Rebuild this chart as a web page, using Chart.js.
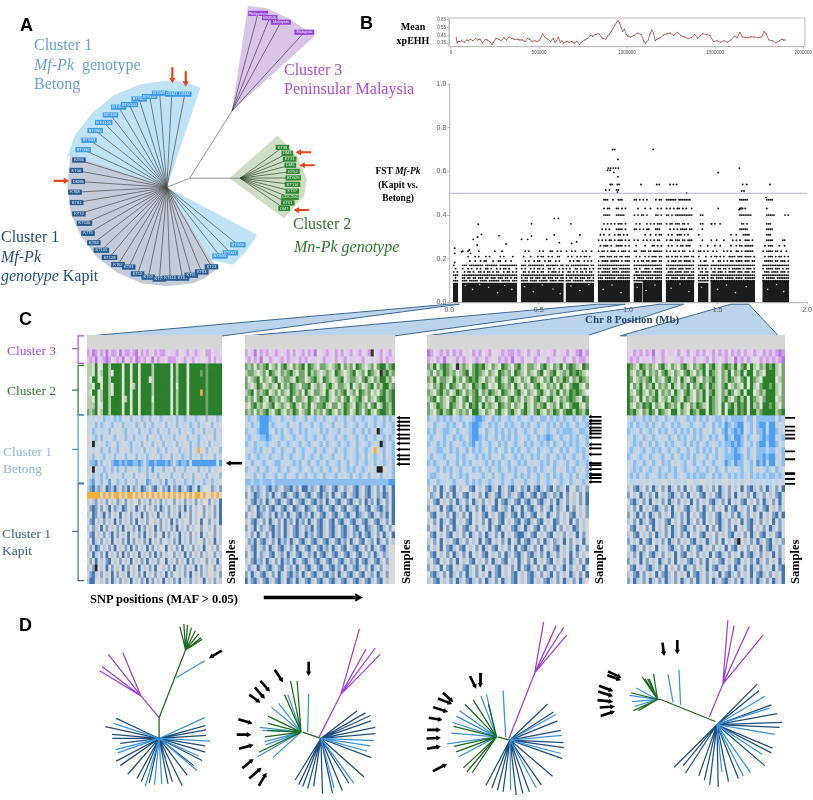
<!DOCTYPE html>
<html>
<head>
<meta charset="utf-8">
<title>Mf-Pk clusters and Chr 8 FST</title>
<script src="https://cdn.jsdelivr.net/npm/chart.js@4"></script>
<style>
body { margin: 0; background: #fff; }
#fig { position: relative; width: 813px; height: 800px; overflow: hidden; }
canvas { position: absolute; }
.t { position: absolute; z-index: 5; white-space: nowrap; line-height: 1; font-family: "Liberation Serif", serif; }
.h { font-family: "Liberation Sans", sans-serif; font-weight: bold; font-size: 18px; color: #000; }
.b { font-weight: bold; color: #000; }
.s { font-weight: bold; font-size: 12.5px; transform: rotate(-90deg); transform-origin: left top; }
</style>
</head>
<body>
<div id="fig">
  <div class="t h" style="left:20px;top:16px">A</div>
  <div class="t h" style="left:360px;top:14px">B</div>
  <div class="t h" style="left:19px;top:310px">C</div>
  <div class="t h" style="left:19px;top:616px">D</div>

  <div class="t" style="left:34px;top:35px;font-size:16px;color:#6b9fd0;line-height:19.5px">Cluster 1<br><i>Mf-Pk</i>&nbsp; genotype<br>Betong</div>
  <div class="t" style="left:284px;top:60px;font-size:16px;color:#b24ad8;line-height:19px">Cluster 3<br>Peninsular Malaysia</div>
  <div class="t" style="left:293px;top:216px;font-size:16px;color:#2c7a2c">Cluster 2</div>
  <div class="t" style="left:294px;top:239px;font-size:16px;color:#2c7a2c"><i>Mn-Pk genotype</i></div>
  <div class="t" style="left:1px;top:227px;font-size:16px;color:#1f4e79;line-height:19.5px">Cluster 1<br><i>Mf-Pk</i><br><i>genotype</i> Kapit</div>

  <div class="t b" style="left:394px;top:20px;width:38px;text-align:center;font-size:10px;line-height:14px">Mean<br>xpEHH</div>
  <div class="t b" style="left:368px;top:165px;width:60px;text-align:center;font-size:9.5px;line-height:13.5px">FST <i>Mf-Pk</i><br>(Kapit vs.<br>Betong)</div>
  <div class="t b" style="left:585px;top:314px;font-size:11px;color:#27476b">Chr 8 Position (Mb)</div>

  <div class="t" style="left:7px;top:344px;font-size:13.5px;color:#b24ad8">Cluster 3</div>
  <div class="t" style="left:7px;top:384px;font-size:13.5px;color:#2c7a2c">Cluster 2</div>
  <div class="t" style="left:3px;top:444px;font-size:13.5px;color:#8db8de;line-height:16.5px">Cluster 1<br>Betong</div>
  <div class="t" style="left:2px;top:526px;font-size:13.5px;color:#2f5f8f;line-height:16.5px">Cluster 1<br>Kapit</div>

  <div class="t s" style="left:225px;top:584px">Samples</div>
  <div class="t s" style="left:400px;top:584px">Samples</div>
  <div class="t s" style="left:593px;top:584px">Samples</div>
  <div class="t s" style="left:789px;top:584px">Samples</div>
  <div class="t b" style="left:90px;top:593px;font-size:12.5px">SNP positions (MAF &gt; 0.05)</div>
</div>

<script>
// ---------- panel B, mean xpEHH ----------
const xpPos = [30,35,40,50,60,75,90,100,110,125,140,150,165,180,195,205,220,232,240,255,270,285,300,315,330,345,360,375,390,405,420,435,445,460,475,490,505,520,535,550,565,580,590,600,610,620,630,640,655,670,685,700,715,730,745,760,775,790,805,820,840,860,880,890,900,910,920,930,940,948,955,965,975,985,995,1005,1020,1040,1060,1080,1095,1105,1120,1130,1140,1150,1160,1170,1180,1190,1205,1225,1245,1265,1285,1305,1325,1345,1365,1385,1400,1412,1430,1450,1470,1490,1510,1530,1550,1570,1590,1610,1625,1640,1655,1670,1685,1700,1720,1745,1765,1778,1790,1805,1825,1845,1865,1880,1890,1900];
const xpVal = [0.42,0.35,0.37,0.37,0.38,0.36,0.39,0.38,0.40,0.38,0.41,0.39,0.40,0.35,0.40,0.39,0.37,0.33,0.36,0.41,0.40,0.38,0.42,0.39,0.43,0.41,0.40,0.40,0.39,0.39,0.37,0.41,0.40,0.37,0.38,0.37,0.39,0.47,0.42,0.40,0.37,0.41,0.36,0.38,0.43,0.36,0.38,0.35,0.37,0.36,0.37,0.35,0.37,0.33,0.37,0.39,0.41,0.45,0.44,0.46,0.47,0.41,0.40,0.44,0.47,0.50,0.54,0.58,0.62,0.64,0.62,0.56,0.50,0.53,0.46,0.44,0.43,0.45,0.48,0.46,0.37,0.35,0.39,0.47,0.52,0.48,0.38,0.40,0.41,0.42,0.45,0.47,0.48,0.45,0.49,0.45,0.43,0.41,0.42,0.46,0.41,0.44,0.47,0.46,0.45,0.37,0.38,0.36,0.38,0.36,0.39,0.44,0.42,0.49,0.43,0.42,0.42,0.43,0.43,0.42,0.43,0.50,0.47,0.39,0.38,0.35,0.38,0.40,0.39,0.39];
const xpTicksX = [0, 500000, 1000000, 1500000, 2000000];
const xpTicksY = [0.35, 0.45, 0.55, 0.65];

// ---------- panel B, FST scatter ----------
const fstThreshold = 0.5;
const fstLevels = [0.10,0.112,0.125,0.14,0.155,0.17,0.19,0.21,0.235,0.26,0.285,0.31,0.335,0.36,0.40,0.43,0.47];
// [first bin (0.01 Mb), top of the solid band, dots per level]
const contig1 = [2, 0.09, ["###",".#.","###","#.#",".#.","#.."]];
const contig2 = [7, 0.09, [
  "###.#####.####.######.#####.###","##.##.##.###.##.###.###.##.#.##","###############################",
  ".#.##.#..##.#.##.#.##..#.##.#.#","#..#.#..#.#..##.#..#.#.##.#...#","###.########.#######.##########",
  "....#..#..#.##...#..##..#..#...","...#...#.#...#.#.....#.#....#..","#..#.....#........#...#........"]];
const contig3 = [40, 0.09, [
  "####.####.#####.####.###","#.##.##.###.##.###.##.##","########################",
  ".##.#.##.#.##..#.###.#.#","#.#..#.#.##.#..##.#..#.#","###.#########.#######.##",
  "..#.#..#.##..#.##..#.#..",".#...#...#.##..#.#..##..","..#.#.....#.#...##..#.#."]];
const contig4 = [65, 0.09, [
  "###.######.#####","#.##.##.###.##.#","################",
  ".##.#.#.##.#.##.","#.#..##.#.##.#.#","##.##########.##",
  "..#.#.##..#.#.#.",".#.#..#.#.##.#..","#..#.#...#.#..#."]];
const contig5 = [83, 0.10, [
  "##################","###.######.#######","##################",
  "#.#####.####.#####","##.####.###.######","##################",
  "#.####.#####.#.###",".###.###.##.##.###","#.##.#.###.#.###.#",
  ".#.###.#..####.#.#","#.#.#.##.#.###.#.#",".#.#..#..#.##.#.#.",
  "..#.#.#...####.#..","...#.#.#.#.###.#..","...####...#####..","...#.##...##.#.#.","...###..#..###..."]];
const contig6 = [103, 0.09, ["#####","#.###","#####",".##.#","##.#.","#####","#.#.#",".#.#.","##..#",".#...","#.#..",".....","##.#.",".#.#.","#.#.#","..#..","##.#."]];
const contig7 = [108, 0.10, [
  "###########","#.####.####","###########","#####.#####",".###.#.####","###########",
  "#.##.###.##",".#.#.###.##","##.##.#####",".#...##.#.#","#.#.#.#.##.",".#..#..#.##",
  "#.##...###.","..#.#.#.###","#.#....##.#",".#..#...#.#","#.#....#.##"]];
const contig8 = [121, 0.10, [
  "################","##.####.###.####","################",".###.####.###.##","#.####.###.###.#","################",
  ".#.###.##.####.#","##.#.##.#.###.##","#.#.##.#.##..#.#",".#.#..#.##.###..","#.##.###.##.###.",".#.#..###.#.#...",
  "..#.#.#.####.##.","#.##.###.##.#...","##.#.##########.","#.#.#.##.#.#..#.","######.#######.."]];
const contig9 = [139, 0.09, ["######","#.##.#","######",".##.##","#.#.#.","######",".#.##.","#...#.","##.#.#",".#...#","..#...","#.....","..#...",".#....",".#...."]];
const contig10 = [146, 0.10, [
  "#########################","##.####.#####.####.######","#########################",
  ".##.###.#.####.###.###.##","#.#.##.##.#.#####.#.###.#","#########################",
  ".#..##.#.#.##.####.###.##","#.##.#.#..####.###.####.#",".#.#...#.#.#..##.#.#####.",
  "..#..#.....#..#.##.#####.","#..#...#....#.#.#..###.#.","...........#..#...####...",
  "................#####....","#.#..............##.#....","................#######..","................##.#.....","................#####...."]];
const contig11 = [175, 0.10, [
  "###############","#.#####.#######","###############",".###.####.###.#","#.####.###.#.##","###############",
  ".#####.##.###.#",".#.###.#.##.#.#","#.####.##.#..#.",".#.###...#..#..","..####.....##..","..###..........",
  "..####.........","..###..........","..#####.......#","..#............","..####........."]];
const contigList = [contig1, contig2, contig3, contig4, contig5, contig6, contig7, contig8, contig9, contig10, contig11];
const contigBins = [3, 31, 24, 16, 18, 5, 11, 16, 6, 25, 15];
const fstSparse = [[0.03,0.248],[0.03,0.225],[0.03,0.183],[0.162,0.358],[0.18,0.312],[0.158,0.30],[0.134,0.289],[0.156,0.263],[0.278,0.306],[0.317,0.268],[0.112,0.24],[0.069,0.232],[0.119,0.225],
  [0.46,0.36],[0.46,0.304],[0.404,0.289],[0.438,0.289],[0.544,0.289],[0.587,0.309],[0.587,0.385],[0.61,0.385],[0.615,0.274],[0.68,0.36],[0.73,0.309],[0.712,0.278],[0.684,0.27],
  [0.913,0.70],[0.925,0.70],[0.943,0.655],[0.889,0.615],[0.902,0.615],[0.917,0.615],[0.93,0.615],[0.945,0.615],[0.943,0.575],[0.885,0.605],[0.9,0.605],[0.92,0.595],
  [0.90,0.54],[0.91,0.54],[0.94,0.54],[0.95,0.54],[0.875,0.515],[0.895,0.515],[0.935,0.515],[0.94,0.505],[0.945,0.515],
  [1.14,0.70],[1.072,0.54],[1.16,0.54],[1.174,0.54],[1.234,0.54],[1.253,0.54],[1.271,0.54],[1.327,0.50],
  [1.504,0.595],[1.622,0.615],[1.64,0.54],[1.663,0.54],[1.635,0.51],[1.648,0.51],[1.504,0.43],[1.793,0.54],[1.877,0.40],[1.771,0.48],[1.417,0.40],[1.417,0.36],[1.467,0.36],[1.514,0.36],[1.63,0.43],[1.62,0.425],[1.64,0.43]];
const fstFlecks = [[0.09,0.078],[0.13,0.06],[0.17,0.082],[0.22,0.07],[0.27,0.045],[0.31,0.078],[0.35,0.06],[0.42,0.072],[0.47,0.05],[0.52,0.08],[0.58,0.062],[0.62,0.04],[0.68,0.076],[0.73,0.055],[0.78,0.082],[0.86,0.06],[0.91,0.08],[0.96,0.045],[1.05,0.07],[1.1,0.055],[1.15,0.08],[1.24,0.065],[1.29,0.085],[1.34,0.05],[1.41,0.07],[1.5,0.06],[1.55,0.08],[1.6,0.045],[1.66,0.072],[1.78,0.06],[1.83,0.082],[1.87,0.05]];

// ---------- panel C, heat maps: 0 grey, 1-3 cluster tints, 4 black, 5 orange ----------
const heatPanel1 = {
  purple: ["21320213122031221230212102122101120012012100220110","12130123201213012032120130211022210120120100120201"],
  green: [
    "11030033133330330330333313333330313330333333233333","11030133103330330330333313333330313330333323233333",
    "10330033133330330330333013333330313330333333233333","11033033103330330130333313333330303330333333233333",
    "10330133103330330330333313333330313330333353233333","11030133133330130330333303333330313330333333233333",
    "11130033133330330330333313333330313330333333233333","21230133133330330330333313333330313330333333233333"],
  betong: [
    "10101021102120102010210201021011020120102100201021","01020210120102011021020120110201020110210201002010",
    "10210110201001201102010210201020102010120102010201","00120201012010210201102001020110201002010210100201",
    "10410102100210012010201020102011020100201201020110","00100210201200102011020100210201002010201500201002",
    "10200120102010201020102001021002010210201020100201","02230201023323233223202332333232023223033333333303",
    "10401021020210201002102030102010201020100201020100","00201202010102010201002010200102010201020010201002",
    "02301201300210201020103201020300201021020102102010"],
  kapit: [
    "12312103213102130210321023102130213102310310002102","55555050505505055050505050505050505050505505005050",
    "10120102010210201002010201020100201020102010020103","02320201302103201031020102031020102030201002010203",
    "10320130201030102010302010301020103010201002010203","02301020103020102030102001020103020100201030020103",
    "10210302010203010203020103020102030102010020010201","02301020130201030102030102003020103010201030100201",
    "10310201030102030201020301020010203010201002010301","02032010203010203020103020100301020301020103001020",
    "10310203010203020103010203020100201030201020100201","02030102301020103010203010200301020103020100201030",
    "10240103020103020103010203001020301020103020100201","02310201030201030102030102010302001020301020100102",
    "13300102031020103010203020103010203010201003010201"]
};
const heatPanel2 = {
  purple: ["20130212012101202012021300121021201201201240120120","12021300210120211021201100211020120110120010120211"],
  green: [
    "21202123012023102123032102210123021203210120233123","12210120321021231022031210121032101230120321042312",
    "20123021023012210322012310321012301221023102133120","21013201210302132102230121023102210301201230213312",
    "12302123012021032120310221031021230120321201023123","21202310321201230221032102231012023012310210233123",
    "10231201230121023102130122310220132103212023013213","21202123102310213201230212023102132013202310233213"],
  betong: [
    "12102333211021012101201210210120120120121012102021","10211333121011201021012012101201021012012012012012",
    "21012333102120121021201102120112010120120210421012","12101223210121012101201210210120121012012012012021",
    "21021112101201210120121012021012012102101210142012","10121201021021012012101201210120121012012105012012",
    "12012110210120121012012102101201021012102012102012","10210121012201012120120121021012012012012102012102",
    "21012012101210210121012012012102012120121001440012","10120121012012101201201210210120101201210201020102",
    "22122122212222222222222222222222222222222222222233"],
  kapit: [
    "10212102312102231203312103210231021023102310203103","20132102031023102310231023120310230123102310213203",
    "10231203102310230123102312031023102310203120310203","02103120231023103210321023102310230123102301231203",
    "20103210203120310231203102310231023103210231021303","10231020310203120312031023102302310231023102310203",
    "20130210231203102310213023102310231023103210231020","10203102031203102310312023102310231021302310203103",
    "02130231020312031023102310231023120310230120310201","10230120310231020310231023120310230123102031023100",
    "20130210230120310231021302310231023102310203102100","10231203102031203102310231023102310213023102310200",
    "02103102310230120310231023102312031023102031020100","20310231020310231203102310231203102310230120310200",
    "30231023102310320310231023102310231023102310230100"]
};
const heatPanel3 = {
  purple: ["32012120212010212012001212212102012010120112012312","21021310120210121021002121311201021002110021021221"],
  green: [
    "21302321041210232310210321023102210231021302321032","12021321201230232102103212032102102301230121323210",
    "21302210312023231021023102310210321021302132021321","10213203210210321320103212031021023102120310233102",
    "21023120132021230213210321023102102310213021323210","12302102310230232021032102312021023102310212321032",
    "20132103210203230312103212021031021230120310233102","21023123012120331021023102310231023102132023313213"],
  betong: [
    "21021212012101233210212012102101210220212021021021","10210121210212332102121021210212012102120212102112",
    "21201221021012331021021202120121021012102122210221","12101210212102332120120212021012102123210210212012",
    "21021202101212312012102120121021201212021021212102","10122102120120212102120120212012102101210212012120",
    "12011201021210120212010210120210212012012120121021","21210120120212010120212012012120101212021012012112",
    "10120212012010212012012102120102120210120102120102","12210102012120101210201210120212012012021201202012",
    "21021101210120212012101201201021012012101210210120"],
  kapit: [
    "10203102301002301023103102310213023102302103002102","02103020310230102031023102102310230231021302010203",
    "10230102031020310201030231023023102310203102010203","20103023102031020310230120310302310201302103020102",
    "02301020310203010230102310230310230103102010230102","10203102301023010203102301023023102301032010302010",
    "20103020310231020103023010231031023020130201032010","02301023010203102031020301023310230102301020103020",
    "10203010231020103023010203013023102031021030201030","20103023102301020310230102030231020301023010203102",
    "02301020310203010230102031023102310203102010302010","10230102030102301020310230103102030102301020310203",
    "20103023010231020301023010203023102031020130201030","02310203102031020103023010230102310201302010310203",
    "10230102031023102031020310230102301023102031020310"]
};
const heatPanel4 = {
  purple: ["10212021301201102012012120120212021202102102121232","12120110210210011201021012021012103120210021212123"],
  green: [
    "32103212102310210231021230231023213023031021323102","31021302120231021023102130321021302130330210333102",
    "32012123021023120310231021231021321023032103333012","30213021302120310213021320321023012103031023323102",
    "31023102130212031023102130231021320130330121333102","32103021230120321032102130321023102313032102333012",
    "31021323021032120310213210321030231323031203323102","32310213203210330210321330321030331323033123333123"],
  betong: [
    "01210212021021021012120212012202122220220222222021","12021120210210212101210121021213212330120233133101",
    "21102012102120120212021201021023123230120223133210","10210210210102102120120210212013213320210123233012",
    "01212012021021210120212012101212232320120233133201","12101201212012012012012021202012123210210222122012",
    "21012102101201201212021012012012223320210223233102","10210210210212010120120120121013213220120323133012",
    "01212012102102120121012102102102010120120101210210","12120121012120121012121221021210212121021212122121",
    "01101010101001011010011001010100101010011010110101"],
  kapit: [
    "10231020310203102030102301020310201030231020310203","20103102030102310203010230102310203010203102010230",
    "02310203010203102010302010231020301023010203102030","10203010231020301023102031020103023010203102301020",
    "20130203102010310203010230102301020310201030102303","10203102301023010203102030102310201030231020103020",
    "02301020301020310231020103020310203010230102031020","10230102031020310203010230102010230102031023010230",
    "20103023010203102010230103102030102401020310230102","02310201030102310203102301020103023010201030231020",
    "10203102310201030230102010302310201030231020103020","20103020103102030102310203010230102301020310201030",
    "02301023102030102031020103023010203102031020103023","10230201030231020103023102010302310201030231020103",
    "20310203102031020310203102031023102031020310203103"]
};
const heatColours = {
  top: ['#d6d6d6','#d6d6d6','#d6d6d6','#d6d6d6','#111111','#f0b040'],
  purple: ['#dedade','#e2c8f0','#cf9fe8','#b878e0','#333333','#f0b040'],
  green: ['#dfe5da','#b3ccaa','#74a56e','#2a802a','#333333','#e8b040'],
  betong: ['#d6d6d6','#b7d4f2','#8cbff0','#4f9fee','#222222','#f0b040'],
  kapit: ['#d9d9d9','#b5c8dd','#7ea3cb','#3f75b0','#222222','#f5b035']
};
const heatRowHeight = { top: 14, purple: 7, green: 6.5, betong: 6.36, kapit: 6.6 };

// ---------- panel A, tree (figure units, 3 per pixel) ----------
const treeAHub = [500,565];
const purpleHub = [700,330];
const greenHub = [725,537];
const betongTips = [[243,449],[261,420],[280,390],[306,365],[327,342],[352,318],[385,310],[415,293],[447,285],[478,275],[515,278],[555,278],[718,742],[695,767],[663,777]];
const betongTipNames = ["BTG30","BTG53","BTG60","BTG120","BTG43","BTG87","BTG100","BTG63","BTG40","BTG85","DSM1","DSM2","BTG50","BTG47","BTG35"];
const kapitNames = ["KT66","KT50","DSM6","KT68","KT81","KT72","KT100","KT75","KT84","KT105","KT128","KT64","KT91","KT12","KT53","KT79","KT118","KT85","KT97","KT83","KT23"];
const kapitTips = [[230,481],[222,513],[228,547],[218,580],[223,612],[230,647],[247,676],[258,707],[276,736],[299,759],[324,781],[350,803],[383,811],[410,832],[443,842],[477,848],[510,845],[548,845],[575,836],[607,826],[637,810]];
const greenNames = ["KT38","DM3","KT31","DM5","KT52","BTG29","KT114","KT37","CDC206","KT61","DM7"];
const greenTips = [[855,442],[870,460],[877,478],[879,497],[887,516],[888,536],[886,556],[885,577],[878,596],[871,613],[860,630]];
const purpleNames = ["Philippines","MKB40","Malaysia","Malaysia"];
const purpleTips = [[780,29],[816,42],[850,56],[922,87]];
const betongWedge = [[500,565],[603,258],[556,240],[500,236],[417,248],[339,280],[273,334],[219,402],[190,480],[198,468],[500,565]];
const betongWedge2 = [[500,565],[778,712],[741,765],[702,804],[640,790],[500,565]];
const kapitWedge = [[500,565],[204,465],[195,564],[204,642],[237,717],[285,780],[348,828],[423,861],[501,870],[579,861],[615,846],[655,815],[500,565]];
const purpleWedge = [[700,330],[749,6],[804,12],[870,42],[915,72],[954,99],[700,330]];
const greenWedge = [[692,537],[840,405],[900,470],[930,540],[921,591],[860,660],[692,537]];
const redArrowsA = [[517,195,517,242],[558,207,558,252],[153,545,197,545],[943,457,898,457],[954,497,910,497],[936,635,892,635]];

// ---------- connectors, brackets and arrows around panel C (pixels of the figure) ----------
const connectors = [
  [[87,335],[449,303],[460,303],[221,335],[87,335]],
  [[245,335],[600,303],[628,303],[395,335],[245,335]],
  [[427,335],[663,303],[687,303],[589,335],[427,335]],
  [[623,335],[735,303],[753,303],[783,335],[623,335]]
];
const brackets = [
  ["#b24ad8", [[80,335],[74,335],[74,363],[80,363]], [68,348,74,348]],
  ["#2c7a2c", [[80,365],[74,365],[74,415],[80,415]], [68,390,74,390]],
  ["#3f9ae8", [[80,415],[74,415],[74,484],[80,484]], [68,450,74,450]],
  ["#3f6f9f", [[80,485],[74,485],[74,583],[80,583]], [68,533,74,533]]
];
const arrowRowsP1 = [464];
const arrowRowsP2 = [418,422,426,430,435,439,444,450,456,460,465];
const arrowRowsP3 = [417,421,424,428,431,434,438,445,449,455,466,464,470,475,479,483,476];
const arrowRowsP4 = [418,427,431,435,439,452,460,474,480,485,475];
const snpArrow = [262,600,378,600];

// ---------- panel D, trees (figure units, 3 per pixel) ----------
const treeD1 = {
  greenLines: [[470,405,470,340],[470,340,550,128]],
  purpleLines: [[470,340,415,272]],
  blueLines: [[522,215,608,162]],
  purpleHub: [415,272], purpleTips: [[316,142],[360,137],[297,180],[290,193]],
  greenHub: [550,128], greenTips: [[533,55],[545,47],[556,50],[568,58],[580,68],[590,78],[597,90],[600,95]],
  hub: [470,405],
  dark: [[307,368],[340,342],[327,392],[328,405],[352,420],[340,476],[352,490],[375,517],[403,530],[416,540],[440,545],[497,547],[510,540],[540,553],[555,520],[575,490],[600,474],[610,448],[610,428],[612,395],[612,378],[610,365]],
  light: [[332,358],[338,440],[345,450],[428,555],[456,550],[478,548],[585,505],[625,413],[608,340],[590,460]]
};
const treeD2 = {
  greenLines: [[960,405,905,385]],
  purpleLines: [[955,400,1020,268]],
  blueLines: [[920,385,923,265]],
  purpleHub: [1020,268], purpleTips: [[1077,62],[1097,125],[1125,122],[1140,142]],
  greenHub: [900,385], greenTips: [[850,268],[868,225],[888,225],[800,335],[800,358],[797,380],[790,400],[772,448]],
  greenHubLight: [[860,268],[832,295],[810,307],[775,370],[783,380],[790,415],[793,425],[768,462],[815,465]],
  hub: [960,405],
  dark: [[882,535],[893,550],[905,555],[920,562],[938,555],[965,578],[995,575],[1025,568],[1045,545],[1090,525],[1113,465],[1125,390],[1125,370],[1112,350],[1110,333],[1095,325],[1070,318]],
  light: [[1060,545],[1120,412],[1110,428],[1100,445],[1000,560]]
};
const treeD3 = {
  greenLines: [[333,410,295,400]],
  purpleLines: [[330,405,408,200]],
  blueLines: [[320,400,312,255]],
  purpleHub: [408,200], purpleTips: [[435,40],[473,52],[496,57],[505,82]],
  greenHub: [292,400], greenTips: [[222,285],[197,298],[268,298],[162,367],[163,430],[170,447],[192,497],[202,510],[218,513]],
  greenHubLight: [[245,272],[262,268],[180,318],[170,335],[160,355],[155,388],[143,422],[178,462]],
  hub: [333,410],
  dark: [[260,552],[278,560],[295,567],[312,572],[352,582],[372,577],[392,572],[428,550],[462,523],[492,468],[496,434],[495,418],[487,380],[477,350],[465,322],[447,297]],
  light: [[335,567],[413,560],[487,452],[490,395],[472,330]]
};
const treeD4 = {
  greenLines: [[955,352,790,283],[790,283,775,283]],
  purpleLines: [[937,337,978,235]],
  blueLines: [[827,292,812,205],[850,300,845,190]],
  purpleHub: [978,235], purpleTips: [[993,35],[1012,52],[1058,55],[1100,82]],
  greenHub: [780,283], greenTips: [[768,203],[733,212],[742,218],[750,218],[755,218],[700,262],[707,318],[722,318],[735,305]],
  greenHubLight: [[715,247],[695,270],[703,290],[710,305]],
  hub: [960,362],
  dark: [[830,495],[858,490],[865,513],[905,522],[922,535],[938,550],[964,557],[995,540],[1025,530],[1105,490],[1125,450],[1128,435],[1150,370],[1158,355],[1143,327],[1125,300],[1088,255],[1082,235]],
  light: [[975,510],[1040,522],[1062,512],[1098,455],[1135,392],[1105,273],[1120,310]]
};
const arrowsD12 = [[660,130,622,153],[923,165,923,208],[820,190,845,228],[777,225,805,258],[760,245,790,280],[743,268,775,292],[710,345,752,358],[705,393,748,393],[712,437,755,425],[722,498,755,470],[743,530,780,497],[772,553,795,513]];
const arrowsD34 = [[212,210,230,248],[245,200,243,245],[130,262,160,290],[115,280,157,297],[100,307,145,322],[87,340,127,347],[82,378,122,378],[80,405,122,403],[82,437,122,430],[100,507,142,485],[795,105,800,145],[840,97,840,140],[630,195,670,215],[628,207,668,222],[603,240,645,257],[600,258,645,273],[598,285,645,290],[605,308,650,305],[608,335,650,320]];

// ---------- helpers ----------
const fig = document.getElementById('fig');

function addCanvas(left, top, w, h, blur) {
  const c = document.createElement('canvas');
  c.width = w; c.height = h;
  c.style.cssText = 'left:' + left + 'px;top:' + top + 'px;width:' + w + 'px;height:' + h + 'px;filter:blur(' + (blur || 0.3) + 'px)';
  fig.appendChild(c);
  return c;
}
function segs(list, dx) {
  const out = [];
  for (const s of list) {
    out.push({x: s[0] + (dx || 0), y: s[1]}, {x: s[2] + (dx || 0), y: s[3]}, {x: null, y: null});
  }
  return out;
}
function star(hub, tips) { return tips.map(t => [hub[0], hub[1], t[0], t[1]]); }
function lineSet(list, colour, width, dx) {
  return {data: segs(list, dx), showLine: true, borderColor: colour, borderWidth: width, pointRadius: 0, fill: false};
}
function polySet(pts, colour, edge) {
  return {data: pts.map(p => ({x: p[0], y: p[1]})), showLine: true, fill: 'shape', backgroundColor: colour,
    borderColor: edge || colour, borderWidth: edge ? 1 : 0, pointRadius: 0};
}
function arrowSets(list, colour, width, r) {
  const heads = list.map(a => ({x: a[0] + 0.82 * (a[2] - a[0]), y: a[1] + 0.82 * (a[3] - a[1])}));
  const rots = list.map(a => Math.atan2(a[2] - a[0], -(a[3] - a[1])) * 180 / Math.PI);
  const shafts = list.map(a => [a[0], a[1], a[0] + 0.8 * (a[2] - a[0]), a[1] + 0.8 * (a[3] - a[1])]);
  return [lineSet(shafts, colour, width),
    {data: heads, showLine: false, pointStyle: 'triangle', pointRadius: r, pointRotation: rots, backgroundColor: colour, borderWidth: 0}];
}
// chart.js paints dataset 0 last, so the lists below are written bottom to top and reversed here
function sketch(canvas, xMax, yMax, datasets, plugins) {
  return new Chart(canvas, {
    type: 'scatter',
    data: {datasets: datasets.slice().reverse()},
    options: {
      responsive: false, animation: false, layout: {padding: 0},
      scales: {
        x: {type: 'linear', display: false, min: 0, max: xMax},
        y: {type: 'linear', display: false, min: 0, max: yMax, reverse: true}
      },
      plugins: {legend: {display: false}, tooltip: {enabled: false}}
    },
    plugins: plugins || []
  });
}

// tip labels of panel A: small tinted boxes holding the sample names
const tipLabelPlugin = {
  id: 'tipLabels',
  afterDatasetsDraw(chart) {
    const ctx = chart.ctx, xs = chart.scales.x, ys = chart.scales.y;
    const groups = [[betongTipNames, betongTips, '#3d9be8'], [kapitNames, kapitTips, '#2a5d92'], [greenNames, greenTips, '#2f8a2f'], [purpleNames, purpleTips, '#9a45d8']];
    ctx.save();
    ctx.font = '4px "Liberation Sans"';
    ctx.textAlign = 'center'; ctx.textBaseline = 'middle';
    for (const [names, tips, col] of groups) {
      tips.forEach((t, i) => {
        const px = xs.getPixelForValue(t[0]), py = ys.getPixelForValue(t[1]);
        const w = names[i].length > 6 ? 20 : 6 + names[i].length * 1.9;
        ctx.fillStyle = col;
        ctx.fillRect(px - w / 2, py - 2.6, w, 5.2);
        ctx.fillStyle = '#e8f2ff';
        ctx.fillText(names[i], px, py);
      });
    }
    ctx.restore();
  }
};
const boxPlugin = {
  id: 'box',
  afterDatasetsDraw(chart) {
    const a = chart.chartArea, ctx = chart.ctx;
    ctx.save(); ctx.strokeStyle = '#bdbdbd'; ctx.lineWidth = 1;
    ctx.strokeRect(a.left, a.top, a.right - a.left, a.bottom - a.top);
    ctx.restore();
  }
};

// ---------- connectors, brackets, panel C arrows ----------
const rowArrows = (rows, from, to) => rows.map(y => [from, y, to, y]);
const overlaySets = [];
connectors.forEach(c => overlaySets.push(polySet(c, '#bbd3eb', '#3b6a96')));
brackets.forEach(b => {
  overlaySets.push({data: b[1].map(p => ({x: p[0], y: p[1]})), showLine: true, borderColor: b[0], borderWidth: 1.2, pointRadius: 0});
  overlaySets.push(lineSet([b[2]], b[0], 1.2));
});
overlaySets.push(...arrowSets(rowArrows(arrowRowsP1, 240, 224), '#000', 2.6, 3.2));
overlaySets.push(...arrowSets(rowArrows(arrowRowsP2, 410, 396), '#000', 1.8, 2.4));
overlaySets.push(...arrowSets(rowArrows(arrowRowsP3, 604, 590), '#000', 1.8, 2.4));
overlaySets.push(...arrowSets(rowArrows(arrowRowsP4, 800, 786), '#000', 1.8, 2.4));
overlaySets.push(...arrowSets([snpArrow], '#000', 3.6, 5));
sketch(addCanvas(0, 0, 813, 800), 813, 800, overlaySets);

// ---------- panel A ----------
const treeAGrey = '#4a4a4a';
sketch(addCanvas(0, 0, 350, 300), 1050, 900, [
  polySet(betongWedge, '#bfe3f5'), polySet(betongWedge2, '#bfe3f5'), polySet(kapitWedge, '#c4ccd9'),
  polySet(purpleWedge, '#d9c6e6'), polySet(greenWedge, '#cfdcc6'),
  lineSet(star(treeAHub, betongTips), treeAGrey, 0.7),
  lineSet(star(treeAHub, kapitTips), treeAGrey, 0.7),
  lineSet(star(greenHub, greenTips), '#2f4a2f', 0.7),
  lineSet(star(purpleHub, purpleTips), '#4a3a5a', 0.7),
  lineSet([[500,565,570,537],[570,537,700,330],[570,537,725,537]], '#666666', 0.7),
  ...arrowSets(redArrowsA, '#e8431a', 2.2, 3.6)
], [tipLabelPlugin]);

// ---------- panel B, xpEHH ----------
new Chart(addCanvas(420, 12, 393, 50), {
  type: 'scatter',
  data: {datasets: [{
    data: xpPos.map((p, i) => ({x: p * 1000, y: xpVal[i]})),
    showLine: true, borderColor: '#a84848', borderWidth: 0.8, pointRadius: 0.5, pointBackgroundColor: '#8f2f2f', pointBorderWidth: 0
  }]},
  options: {
    responsive: false, animation: false,
    layout: {padding: {top: 6, right: 6, left: 0, bottom: 0}},
    scales: {
      x: {
        type: 'linear', min: -11300, max: 2009600,
        afterBuildTicks: s => { s.ticks = xpTicksX.map(v => ({value: v})); },
        afterFit: s => { s.height = 15.3; },
        grid: {display: true, drawOnChartArea: false, tickLength: 2, color: '#bbbbbb'},
        border: {color: '#bdbdbd'},
        ticks: {font: {size: 4.5, family: 'Liberation Sans'}, color: '#444', padding: 1, maxRotation: 0, callback: v => String(v)}
      },
      y: {
        type: 'linear', min: 0.302, max: 0.676,
        afterBuildTicks: s => { s.ticks = xpTicksY.map(v => ({value: v})); },
        afterFit: s => { s.width = 29; },
        grid: {display: true, drawOnChartArea: false, tickLength: 2, color: '#bbbbbb'},
        border: {color: '#bdbdbd'},
        ticks: {font: {size: 4.5, family: 'Liberation Sans'}, color: '#444', padding: 1, callback: v => v.toFixed(2)}
      }
    },
    plugins: {legend: {display: false}, tooltip: {enabled: false}}
  },
  plugins: [boxPlugin]
});

// ---------- panel B, FST ----------
const fstDots = [];
contigList.forEach(c => {
  c[2].forEach((mask, lvl) => {
    for (let i = 0; i < mask.length; i++) {
      if (mask[i] === '#') fstDots.push({x: (c[0] + i + 0.5) / 100, y: fstLevels[lvl]});
    }
  });
});
fstSparse.forEach(p => fstDots.push({x: p[0], y: p[1]}));
const fstSets = [
  {data: [{x: 0, y: fstThreshold}, {x: 2, y: fstThreshold}], showLine: true, borderColor: '#b2afe2', borderWidth: 1, pointRadius: 0},
  {data: fstFlecks.map(p => ({x: p[0], y: p[1]})), showLine: false, pointRadius: 0.8, backgroundColor: '#cfcfcf', borderWidth: 0},
  {data: fstDots, showLine: false, pointRadius: 0.95, backgroundColor: '#111', borderWidth: 0}
].concat(contigList.map((c, i) => ({
  data: [{x: c[0] / 100, y: c[1]}, {x: (c[0] + contigBins[i]) / 100, y: c[1]}],
  showLine: true, fill: 'origin', backgroundColor: '#1c1c1c', borderWidth: 0, pointRadius: 0
})));
new Chart(addCanvas(410, 74, 403, 245), {
  type: 'scatter',
  data: {datasets: fstSets},
  options: {
    responsive: false, animation: false,
    layout: {padding: {top: 10, right: 6, left: 0, bottom: 0}},
    scales: {
      x: {
        type: 'linear', min: 0, max: 2,
        afterFit: s => { s.height = 16.5; },
        grid: {display: true, drawOnChartArea: false, tickLength: 2, color: '#bbbbbb'},
        border: {color: '#bdbdbd', width: 1.2},
        ticks: {stepSize: 0.5, font: {size: 7, family: 'Liberation Sans'}, color: '#555', padding: 1, maxRotation: 0, callback: v => v.toFixed(1)}
      },
      y: {
        type: 'linear', min: 0, max: 1,
        afterFit: s => { s.width = 39.3; },
        grid: {display: true, drawOnChartArea: false, tickLength: 2, color: '#bbbbbb'},
        border: {color: '#bdbdbd', width: 1.2},
        ticks: {stepSize: 0.2, font: {size: 7, family: 'Liberation Sans'}, color: '#555', padding: 1, callback: v => v.toFixed(1)}
      }
    },
    plugins: {legend: {display: false}, tooltip: {enabled: false}}
  }
});

// ---------- panel C, heat maps as stacked bars ----------
function heatChart(panel, left, width) {
  const nCols = 50;
  const labels = Array.from({length: nCols}, (_, i) => i);
  const sets = [{
    data: labels.map(() => heatRowHeight.top),
    backgroundColor: heatColours.top[0], borderWidth: 0, stack: 's'
  }];
  let total = heatRowHeight.top;
  ['purple', 'green', 'betong', 'kapit'].forEach(name => {
    panel[name].forEach(row => {
      sets.push({
        data: labels.map(() => heatRowHeight[name]),
        backgroundColor: labels.map(i => heatColours[name][+(row[i] || 0)]),
        borderWidth: 0, stack: 's'
      });
      total += heatRowHeight[name];
    });
  });
  const canvas = addCanvas(left, 335, width, 249, 0.6);
  canvas.style.background = '#d6d6d6';
  new Chart(canvas, {
    type: 'bar',
    data: {labels: labels, datasets: sets},
    options: {
      responsive: false, animation: false, layout: {padding: 0},
      datasets: {bar: {barPercentage: 1, categoryPercentage: 1}},
      scales: {
        x: {display: false, stacked: true},
        y: {display: false, stacked: true, min: 0, max: total, reverse: true}
      },
      plugins: {legend: {display: false}, tooltip: {enabled: false}}
    }
  });
}
heatChart(heatPanel1, 87, 135);
heatChart(heatPanel2, 245, 150);
heatChart(heatPanel3, 427, 162);
heatChart(heatPanel4, 627, 158);

// ---------- panel D ----------
function treeSets(t, dx) {
  const w = 1.25;
  const sets = [
    lineSet(star(t.hub, t.dark), '#1f4e7d', w, dx),
    lineSet(star(t.hub, t.light), '#3a93dd', w, dx),
    lineSet(star(t.purpleHub, t.purpleTips), '#a03fd6', w, dx),
    lineSet(t.purpleLines, '#a03fd6', w, dx),
    lineSet(t.blueLines, '#3a93dd', w, dx)
  ];
  if (t.greenHubLight) sets.push(lineSet(star(t.greenHub, t.greenHubLight), '#3a93dd', w, dx));
  sets.push(lineSet(star(t.greenHub, t.greenTips), '#1d6b1d', w, dx));
  sets.push(lineSet(t.greenLines, '#1d6b1d', w, dx));
  return sets;
}
const arrowsAt = (list, dx) => list.map(a => [a[0] + dx, a[1], a[2] + dx, a[3]]);
sketch(addCanvas(0, 605, 813, 195), 2439, 585, [
  ...treeSets(treeD1, 0), ...treeSets(treeD2, 0), ...treeSets(treeD3, 1200), ...treeSets(treeD4, 1200),
  ...arrowSets(arrowsD12, '#000', 2.6, 3),
  ...arrowSets(arrowsAt(arrowsD34, 1200), '#000', 2.6, 3)
]);
</script>
</body>
</html>
